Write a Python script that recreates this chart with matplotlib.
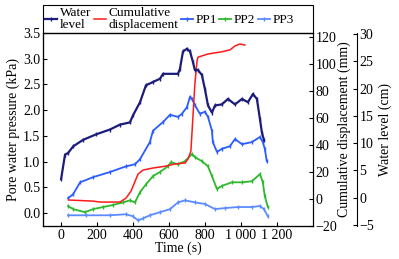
import numpy as np
import matplotlib
matplotlib.use('Agg')
import matplotlib.pyplot as plt
from matplotlib.patches import Rectangle

plt.rcParams['font.family'] = ['Liberation Serif', 'DejaVu Serif']
plt.rcParams['font.size'] = 10

# water level (cm), right-most axis
t_water = [0, 22, 39, 67, 122, 194, 272, 328, 383, 400, 439, 472, 511, 550, 567, 650,
           661, 678, 700, 717, 733, 744, 761, 783, 800, 817, 839, 856, 894, 928, 967,
           1006, 1039, 1067, 1089, 1106, 1117, 1128]
water = [3.4, 7.9, 8.2, 9.4, 10.6, 11.6, 12.5, 13.4, 13.8, 15.1, 17.5, 20.6, 21.2, 21.8,
         22.7, 22.7, 23.6, 26.8, 27.3, 26.8, 24.9, 23.4, 23.4, 22.5, 19.9, 16.9, 15.6,
         16.9, 17.1, 18.1, 17.1, 18.1, 17.5, 19.0, 18.1, 14.4, 11.9, 10.6]

# cumulative displacement (mm)
t_disp = [44, 178, 217, 328, 361, 389, 428, 456, 511, 583, 633, 689, 706, 722, 728,
          744, 756, 761, 817, 894, 939, 967, 994, 1022]
disp = [-0.7, -1.5, -2.2, -2.2, 0.7, 5.9, 18.5, 21.5, 23.0, 24.4, 26.0, 26.7, 29.6,
        35.6, 49.0, 85.0, 102.0, 105.0, 107.4, 109.0, 110.4, 113.3, 114.8, 114.0]

# pore water pressure (kPa)
t_pp1 = [39, 67, 106, 178, 272, 361, 411, 439, 494, 511, 567, 606, 650, 672, 700, 717,
         728, 744, 772, 800, 817, 839, 844, 867, 894, 939, 967, 1006, 1061, 1106, 1122,
         1133, 1144]
pp1 = [0.29, 0.37, 0.60, 0.70, 0.80, 0.91, 0.95, 1.05, 1.38, 1.60, 1.77, 1.91, 1.87,
       1.93, 2.06, 2.26, 2.22, 2.10, 1.93, 1.97, 1.87, 1.60, 1.38, 1.19, 1.25, 1.30,
       1.44, 1.34, 1.38, 1.48, 1.38, 1.25, 1.01]

t_pp2 = [39, 67, 133, 178, 233, 289, 344, 383, 411, 439, 472, 511, 550, 594, 611, 650,
         689, 728, 744, 783, 817, 839, 867, 894, 950, 1006, 1061, 1106, 1122, 1133, 1150]
pp2 = [0.14, 0.08, 0.02, 0.08, 0.12, 0.16, 0.21, 0.25, 0.21, 0.41, 0.56, 0.72, 0.80,
       0.91, 0.99, 0.95, 1.01, 1.15, 1.09, 1.01, 0.91, 0.72, 0.47, 0.53, 0.60, 0.60,
       0.62, 0.76, 0.60, 0.33, 0.12]

t_pp3 = [39, 139, 272, 361, 400, 428, 456, 494, 550, 606, 650, 689, 744, 800, 856, 911,
         983, 1061, 1106, 1128, 1150]
pp3 = [-0.04, -0.04, -0.04, -0.02, -0.06, -0.14, -0.10, -0.04, 0.02, 0.08, 0.21, 0.25,
       0.21, 0.18, 0.08, 0.10, 0.12, 0.12, 0.14, 0.08, -0.06]

x_ticks = [0, 200, 400, 600, 800, 1000, 1200]
x_labels = ['0', '200', '400', '600', '800', '1 000', '1 200']

c_water = '#1c1c7c'
c_disp = '#ff1a1a'
c_pp1 = '#2a5cff'
c_pp2 = '#2db82d'
c_pp3 = '#5a8cff'

fig = plt.figure(figsize=(3.99, 2.59), dpi=100)
ax = fig.add_axes([0.108, 0.127, 0.676, 0.746])
ax2 = ax.twinx()
ax3 = ax.twinx()
ax3.spines['right'].set_position(('axes', 1.163))

l4, = ax.plot(t_pp1, pp1, color=c_pp1, lw=1.3, marker='|', ms=2.5)
l5, = ax.plot(t_pp2, pp2, color=c_pp2, lw=1.3, marker='|', ms=2.5)
l6, = ax.plot(t_pp3, pp3, color=c_pp3, lw=1.3, marker='|', ms=2.5)
l2, = ax2.plot(t_disp, disp, color=c_disp, lw=1.1)
l1, = ax3.plot(t_water, water, color=c_water, lw=1.6, marker='|', ms=2.5)

ax.set_xlim(-100, 1400)
ax.set_ylim(-0.25, 3.5)
ax2.set_ylim(-20, 123)
ax3.set_ylim(-5.2, 30.2)

ax.set_xticks(x_ticks)
ax.set_xticklabels(x_labels)
ax.set_yticks(np.arange(0, 3.51, 0.5))
ax.set_yticklabels(['%.1f' % v for v in np.arange(0, 3.51, 0.5)])
ax2.set_yticks(np.arange(-20, 121, 20))
ax3.set_yticks(np.arange(-5, 31, 5))

for a in (ax, ax2, ax3):
    a.tick_params(direction='in', length=3, width=0.8, pad=2)
    for s in a.spines.values():
        s.set_linewidth(0.8)

ax.set_xlabel('Time (s)', labelpad=0)
ax.set_ylabel('Pore water pressure (kPa)', labelpad=2)
ax2.set_ylabel('Cumulative displacement (mm)', labelpad=0)
ax3.set_ylabel('Water level (cm)', labelpad=3)

# legend box above the axes
ax.add_patch(Rectangle((0, 1), 1, 0.145, transform=ax.transAxes, fill=False,
                       edgecolor='black', lw=0.8, clip_on=False))
leg = ax.legend([l1, l2, l4, l5, l6],
                ['Water\nlevel', 'Cumulative\ndisplacement', 'PP1', 'PP2', 'PP3'],
                loc='center left', bbox_to_anchor=(0.008, 1.0725), ncol=5, frameon=False,
                handlelength=0.9, handletextpad=0.2, columnspacing=0.2, borderpad=0,
                borderaxespad=0, fontsize=9.5, labelspacing=0.1)
for txt in leg.get_texts():
    txt.set_linespacing(1.0)

fig.savefig('out.png', dpi=100)
